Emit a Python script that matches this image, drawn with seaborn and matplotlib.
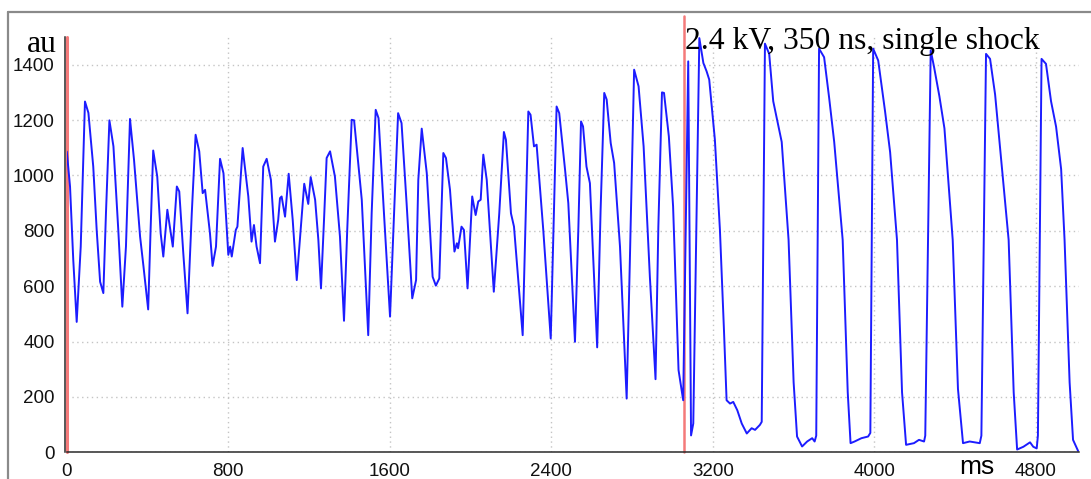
import numpy as np
import pandas as pd
import matplotlib
matplotlib.use("Agg")
import matplotlib.pyplot as plt
from matplotlib.ticker import MultipleLocator
from matplotlib.lines import Line2D
import seaborn as sns

# Optical signal trace (au) versus time (ms), before the shock
pre_time_ms = [
    0, 16, 32, 49, 69, 90, 107, 131, 148, 165, 181, 194, 211, 231, 255, 275, 293,
    313, 333, 363, 380, 403, 415, 428, 448, 465, 478, 498, 525, 545, 557, 577, 598,
    619, 638, 656, 673, 685, 709, 722, 739, 759, 776, 800, 809, 817, 837, 845, 871,
    899, 915, 927, 940, 957, 973, 990, 1011, 1031, 1047, 1056, 1064, 1081, 1099,
    1119, 1139, 1158, 1176, 1196, 1208, 1230, 1246, 1259, 1274, 1287, 1304, 1328,
    1353, 1373, 1389, 1411, 1423, 1461, 1493, 1510, 1530, 1544, 1571, 1601, 1621,
    1641, 1658, 1683, 1711, 1730, 1741, 1758, 1783, 1812, 1828, 1845, 1865, 1878,
    1898, 1920, 1932, 1938, 1955, 1967, 1985, 2008, 2025, 2038, 2050, 2063, 2080,
    2115, 2142, 2165, 2175, 2200, 2215, 2258, 2286, 2297, 2314, 2327, 2360, 2397,
    2426, 2439, 2468, 2484, 2517, 2534, 2547, 2557, 2574, 2591, 2627, 2644, 2662,
    2674, 2694, 2711, 2740, 2773, 2789, 2810, 2832, 2857, 2888, 2916, 2930, 2948,
    2958, 2982, 3003, 3030, 3053,
]
pre_signal_au = [
    1086, 960, 695, 471, 743, 1267, 1226, 1032, 803, 616, 575, 864, 1199, 1105, 803,
    526, 743, 1204, 1056, 779, 670, 516, 803, 1090, 996, 791, 707, 876, 743, 960, 942,
    719, 502, 863, 1147, 1087, 936, 948, 792, 673, 743, 1060, 1008, 713, 743, 707,
    803, 815, 1099, 924, 761, 821, 743, 683, 1032, 1060, 984, 761, 839, 918, 924,
    851, 1006, 839, 622, 803, 970, 897, 994, 912, 767, 592, 839, 1063, 1087, 996,
    779, 475, 803, 1201, 1199, 912, 423, 863, 1237, 1207, 863, 490, 863, 1225, 1189,
    900, 556, 622, 984, 1169, 1008, 634, 602, 628, 1081, 1063, 948, 725, 755, 737,
    815, 803, 592, 924, 857, 906, 912, 1075, 984, 580, 863, 1157, 1129, 863, 815,
    423, 1231, 1219, 1105, 1111, 803, 411, 1249, 1225, 1020, 900, 399, 815, 1195,
    1177, 1032, 972, 379, 876, 1298, 1274, 1117, 1045, 743, 194, 695, 1382, 1322,
    1105, 634, 264, 815, 1300, 1298, 1141, 888, 297, 188,
]

# Trace after the single shock
post_time_ms = [
    3078, 3092, 3103, 3133, 3153, 3169, 3182, 3210, 3235, 3255, 3268, 3285, 3301,
    3321, 3343, 3368, 3392, 3409, 3433, 3442, 3458, 3479, 3499, 3541, 3575, 3600,
    3617, 3642, 3667, 3692, 3704, 3712, 3726, 3751, 3776, 3801, 3843, 3868, 3882,
    3902, 3936, 3969, 3980, 3994, 4019, 4053, 4078, 4112, 4137, 4157, 4196, 4221,
    4246, 4252, 4279, 4296, 4322, 4347, 4388, 4414, 4439, 4472, 4522, 4530, 4553,
    4573, 4598, 4623, 4665, 4690, 4707, 4738, 4771, 4787, 4804, 4810, 4828, 4850,
    4875, 4900, 4925, 4942, 4967, 4984, 5009,
]
post_signal_au = [
    1412, 61, 104, 1496, 1406, 1376, 1346, 1129, 803, 441, 188, 176, 182, 152, 104,
    68, 87, 81, 99, 110, 1476, 1439, 1268, 1121, 767, 253, 57, 21, 39, 51, 39, 60,
    1458, 1427, 1280, 1121, 767, 217, 33, 39, 51, 57, 70, 1458, 1415, 1231, 1084,
    767, 217, 27, 33, 45, 39, 60, 1452, 1390, 1286, 1170, 767, 229, 33, 39, 33, 60,
    1439, 1421, 1292, 1097, 767, 217, 10, 20, 36, 20, 14, 60, 1421, 1403, 1268, 1176,
    1023, 767, 253, 45, 5,
]

shock_time_ms = 3058
x_range = (0, 5015)
y_range = (0, 1500)
annotation = "2.4 kV, 350 ns, single shock"

df = pd.DataFrame({
    "t": pre_time_ms + post_time_ms,
    "v": pre_signal_au + post_signal_au,
})

sns.set_style("white")
plt.rcParams["font.family"] = ["Liberation Sans", "DejaVu Sans"]

W, H = 1091, 479
fig = plt.figure(figsize=(W / 100, H / 100), dpi=100)
left, right, bottom, top = 66.8, 1079.3, 452.3, 37.0
ax = fig.add_axes([left / W, 1 - bottom / H, (right - left) / W, (bottom - top) / H])

# Outer window frame (top and left edges)
fig.add_artist(Line2D([8.3 / W, 8.3 / W], [0, 1 - 12.3 / H], transform=fig.transFigure,
                      color="#8a8a8a", lw=1.6))
fig.add_artist(Line2D([8.3 / W, 1.0], [1 - 12.3 / H, 1 - 12.3 / H], transform=fig.transFigure,
                      color="#8a8a8a", lw=1.6))

ax.set_xlim(*x_range)
ax.set_ylim(*y_range)

ax.xaxis.set_major_locator(MultipleLocator(800))
ax.xaxis.set_minor_locator(MultipleLocator(200))
ax.yaxis.set_major_locator(MultipleLocator(200))
ax.yaxis.set_minor_locator(MultipleLocator(50))

ax.grid(True, which="major", color="#c4c4c4", linestyle=(0, (1, 2.5)), lw=1.0)
ax.set_axisbelow(True)

# Cursor markers
ax.axvline(0, color="#f47a7a", lw=2.2, clip_on=False, zorder=3)
ax.axvline(shock_time_ms, ymin=0, ymax=(bottom - 16) / (bottom - top),
           color="#f47a7a", lw=1.8, clip_on=False, zorder=3)

sns.lineplot(data=df, x="t", y="v", ax=ax, estimator=None, sort=False,
             color="#1c1cff", lw=1.4, zorder=4)
ax.set_xlabel("")
ax.set_ylabel("")

for side in ("top", "right"):
    ax.spines[side].set_visible(False)
for side in ("left", "bottom"):
    ax.spines[side].set_color("#2a2a2a")
    ax.spines[side].set_linewidth(1.1)
    ax.spines[side].set_zorder(5)
ax.spines["left"].set_position(("outward", 1.2))

ax.tick_params(axis="both", which="major", direction="in", length=5.5, width=0.9,
               color="#222222", labelsize=13.5, labelcolor="#111111", pad=7.5)
ax.tick_params(axis="both", which="minor", direction="in", length=3, width=0.9,
               color="#222222")

fig.text(685.3 / W, 1 - 49 / H, annotation, family="Liberation Serif", fontsize=22.8,
         ha="left", va="baseline", color="black")
fig.text(57 / W, 1 - 51.7 / H, "au", family="Liberation Serif", fontsize=22.8,
         ha="right", va="baseline", color="black")
fig.text(977 / W, 1 - 473.5 / H, "ms", family="Liberation Sans", fontsize=19,
         ha="center", va="baseline", color="black")

fig.savefig("out.png", dpi=100)
